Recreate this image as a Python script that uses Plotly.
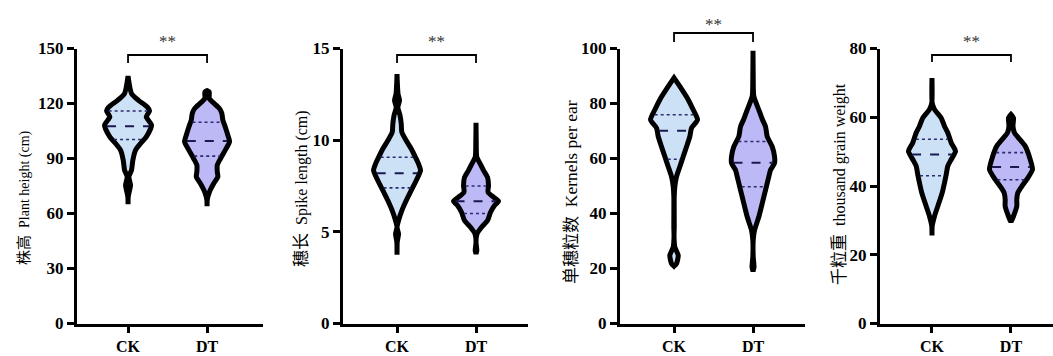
import numpy as np
import plotly.graph_objects as go

# ---------------- data ----------------
groups = ["CK", "DT"]

# Panel 1: Plant height (cm)   profile: value levels and relative density (half-width)
ph_ck_v = [135, 125.4, 121.7, 118.1, 116, 112.7, 108.2, 101.8, 98.2, 94.6, 89.1, 83.7, 80, 75.5, 69.2, 65]
ph_ck_d = [0, 3.5, 10.5, 19.2, 21.5, 18.2, 23.5, 18.2, 12.5, 7.5, 4.8, 3.5, 0.8, 2.5, 0.2, 0]
ph_dt_v = [127, 126.3, 122.7, 120.8, 117.2, 114.5, 110.9, 107.2, 102.7, 99.1, 94.6, 90, 86.4, 82.8, 80, 76.5, 71.9, 67.4, 64]
ph_dt_d = [0, 2.2, 2.2, 5.5, 12.5, 14.8, 15.8, 18.2, 20.8, 22.5, 18.2, 13.5, 10.2, 10.2, 10.8, 6.8, 2.5, 0.2, 0]
ph_ck_q = [100.4, 107.6, 115.9]
ph_dt_q = [91.3, 99.6, 109.8]

# Panel 2: Spike length (cm)
sl_ck_v = [13.6, 13.26, 12.53, 12.17, 11.8, 11.35, 10.9, 10.44, 9.98, 9.53, 9.17, 8.71, 8.35, 7.8, 7.26, 6.71, 6.16, 5.62, 5.25, 4.89, 4.44, 3.75]
sl_ck_d = [0, 0.2, 1, 2.5, 0.8, 3, 4.2, 4.8, 9.2, 14.2, 17.5, 21.5, 23.5, 19.2, 14.2, 9.2, 4.8, 1.5, 0, 1.5, 0.2, 0]
sl_dt_v = [10.95, 10.0, 9.07, 8.71, 8.35, 7.98, 7.53, 7.17, 6.89, 6.67, 6.44, 6.07, 5.62, 5.25, 4.89, 4.44, 3.98, 3.8]
sl_dt_d = [0, 0.2, 0.8, 4.2, 7.5, 11.5, 12.5, 12, 17.5, 22.5, 18.5, 14.5, 11.5, 5.5, 1, 0, 0.8, 0]
sl_ck_q = [7.4, 8.2, 9.07]
sl_dt_q = [6.0, 6.67, 7.5]

# Panel 3: Kernels per ear
kp_ck_v = [89.3, 86.2, 81.4, 77.7, 74.1, 71.1, 68, 64.3, 60.7, 57, 53.4, 49.7, 46.1, 35.1, 31.5, 27.8, 24.8, 21.8, 20.8]
kp_ck_d = [0, 5.8, 14.2, 19.2, 23.5, 17.5, 15.8, 12.5, 9.2, 5.8, 2.5, 0.8, 0.2, 0.2, 0, 0.8, 4.2, 2.5, 0]
kp_dt_v = [99.2, 90, 82.6, 77.7, 74.1, 71.6, 68, 64.3, 60.7, 58.3, 55.8, 53.4, 48.5, 43.7, 38.8, 33.9, 30.3, 24.2, 20.5, 19]
kp_dt_d = [0, 0.2, 0.8, 5.8, 9.5, 12.5, 14.2, 19.2, 21.5, 21.5, 17.5, 15.8, 12.5, 9.2, 5.8, 1.5, 0.2, 0.2, 1, 0]
kp_ck_q = [59.7, 70.1, 75.9]
kp_dt_q = [49.7, 58.5, 66.2]

# Panel 4: thousand grain weight
tg_ck_v = [71.4, 64.2, 62.3, 59.8, 57.4, 55.5, 52.6, 50.1, 47.7, 45.8, 43.3, 40.9, 38, 34.1, 31.2, 28.3, 25.6]
tg_ck_d = [0, 0.2, 2.5, 9.2, 12.5, 15.8, 19.2, 23.5, 19.2, 15.8, 14.2, 12.5, 10.2, 5.8, 2.5, 0.2, 0]
tg_dt_v = [60.8, 59.8, 57.4, 55.5, 54, 51.6, 48.7, 44.8, 41.9, 39.9, 38, 36.1, 34.1, 31.2, 29.5]
tg_dt_d = [0, 2.5, 2, 3.5, 7.5, 14.2, 18.2, 21.5, 15.8, 10.8, 6.8, 5.8, 5.8, 2.5, 0]
tg_ck_q = [43.0, 49.2, 53.6]
tg_dt_q = [41.8, 45.5, 49.7]

y_ticks = [[0, 30, 60, 90, 120, 150], [0, 5, 10, 15], [0, 20, 40, 60, 80, 100], [0, 20, 40, 60, 80]]
titles_cn = ["株高", "穗长", "单穗粒数", "千粒重"]
titles_en = ["Plant height (cm)", "Spike length (cm)", "Kernels per ear", "thousand grain weight"]
sig_labels = ["**", "**", "**", "**"]

panels = [
    (ph_ck_v, ph_ck_d, ph_ck_q, ph_dt_v, ph_dt_d, ph_dt_q),
    (sl_ck_v, sl_ck_d, sl_ck_q, sl_dt_v, sl_dt_d, sl_dt_q),
    (kp_ck_v, kp_ck_d, kp_ck_q, kp_dt_v, kp_dt_d, kp_dt_q),
    (tg_ck_v, tg_ck_d, tg_ck_q, tg_dt_v, tg_dt_d, tg_dt_q),
]

# ---------------- styles / layout ----------------
W, H = 1053, 356
DENS_SCALE = 1 / 79.0          # density unit -> x-axis units
FILL = ["#cde1f6", "#bdb9f7"]
x_domains = [(77, 263), (343, 528), (620, 805), (880, 1053)]
x_ranges = [(0.354, 2.708), (0.316, 2.658), (0.316, 2.658), (0.342, 2.532)]
y_dom = ((356 - 323.5) / H, (356 - 48.5) / H)
title_pos = [(22, 198, 14, 15), (299, 189, 16, 17), (569, 192, 17.5, 17), (838, 184, 16, 17)]
bracket_px = [(55, 63), (55, 63), (33, 42), (55, 62)]
star_px = [42, 42, 24, 42]

SERIF = "Liberation Serif"
CJK = "Noto Sans CJK SC"

fig = go.Figure()
shapes = []
annotations = []

for i, (ckv, ckd, ckq, dtv, dtd, dtq) in enumerate(panels):
    ax = "" if i == 0 else str(i + 1)
    xa, ya = "x" + ax, "y" + ax
    for j, (vv, dd, qq) in enumerate([(ckv, ckd, ckq), (dtv, dtd, dtq)]):
        c = j + 1
        vv = np.array(vv, float)
        dd = np.array(dd, float) * DENS_SCALE
        xs = np.concatenate([c + dd, (c - dd)[::-1], [c + dd[0]]])
        ys = np.concatenate([vv, vv[::-1], [vv[0]]])
        fig.add_trace(go.Scatter(
            x=xs, y=ys, mode="lines", fill="toself", fillcolor=FILL[j],
            line=dict(color="black", width=5, shape="spline", smoothing=0.6),
            hoverinfo="skip", showlegend=False, xaxis=xa, yaxis=ya))
        # quartile / median lines
        order = np.argsort(vv)
        for k, q in enumerate(qq):
            hw = np.interp(q, vv[order], dd[order]) - 2.0 * DENS_SCALE
            fig.add_trace(go.Scatter(
                x=[c - hw, c + hw], y=[q, q], mode="lines",
                line=dict(color="#1a1a4e" if k == 1 else "#2b2b70",
                          width=2 if k == 1 else 1.6,
                          dash="dash" if k == 1 else "dot"),
                hoverinfo="skip", showlegend=False, xaxis=xa, yaxis=ya))

    dom = (x_domains[i][0] / W, x_domains[i][1] / W)
    axis_common = dict(showgrid=False, zeroline=False, showline=True, linecolor="black",
                       linewidth=3, ticks="outside", tickcolor="black", tickwidth=2.5,
                       automargin=False)
    fig.update_layout(**{
        ("xaxis" + ax): dict(domain=dom, range=list(x_ranges[i]), tickvals=[1, 2], ticktext=groups,
                             anchor=ya, ticklen=6, ticklabelstandoff=0, fixedrange=True,
                             tickfont=dict(family=SERIF, size=16, color="black", weight="bold"),
                             **axis_common),
        ("yaxis" + ax): dict(domain=list(y_dom), range=[0, y_ticks[i][-1]], tickvals=y_ticks[i],
                             anchor=xa, ticklen=7, fixedrange=True,
                             tickfont=dict(family=SERIF, size=17, color="black", weight="bold"),
                             **axis_common),
    })

    # significance bracket
    yt, yb = (H - bracket_px[i][0]) / H, (H - bracket_px[i][1]) / H
    shapes.append(dict(type="path", xref=xa, yref="paper",
                       path=f"M 1,{yb} L 1,{yt} L 2,{yt} L 2,{yb}",
                       line=dict(color="black", width=1.8)))
    annotations.append(dict(x=1.5, xref=xa, y=(H - star_px[i]) / H, yref="paper",
                            text=sig_labels[i], showarrow=False, xanchor="center", yanchor="middle",
                            font=dict(family=SERIF, size=17, color="#333333")))
    # axis title
    tx, ty, fe, fc = title_pos[i]
    annotations.append(dict(x=tx / W, y=(H - ty) / H, xref="paper", yref="paper", textangle=-90,
                            showarrow=False, xanchor="center", yanchor="middle",
                            text=(f'<span style="font-family:{CJK};font-size:{fc}px">{titles_cn[i]}</span>'
                                  f'  {titles_en[i]}'),
                            font=dict(family=SERIF, size=fe, color="black")))

fig.update_layout(width=W, height=H, margin=dict(l=0, r=0, t=0, b=0, pad=0, autoexpand=False),
                  paper_bgcolor="white", plot_bgcolor="white",
                  shapes=shapes, annotations=annotations, showlegend=False)

fig.write_html("out.html")
